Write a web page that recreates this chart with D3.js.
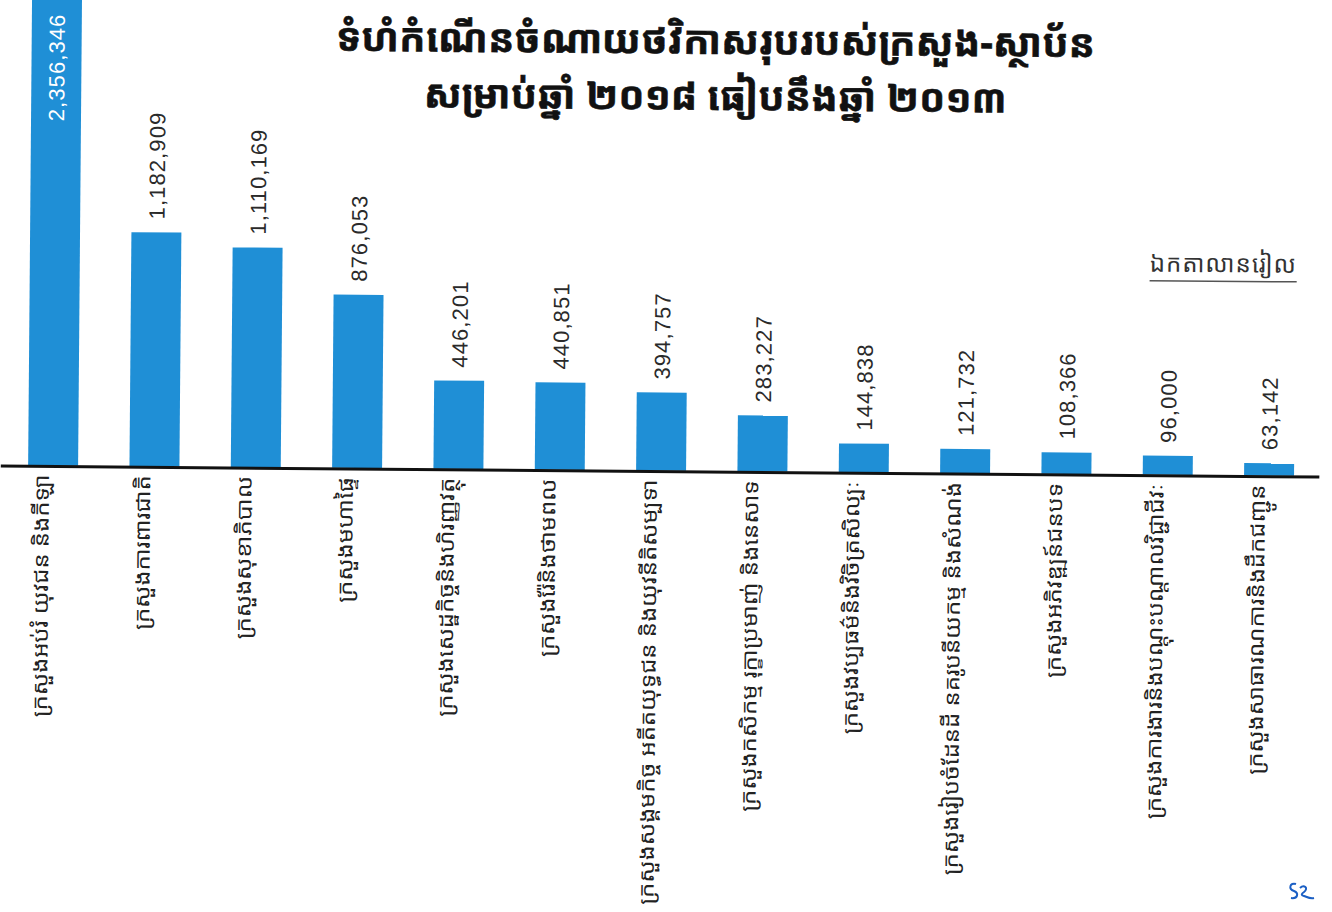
<!DOCTYPE html>
<html>
<head>
<meta charset="utf-8">
<script src="https://cdn.jsdelivr.net/npm/d3@7"></script>
<style>
  html, body { margin: 0; padding: 0; background: #ffffff; }
  svg { display: block; }
</style>
</head>
<body>
<svg id="chart" width="1332" height="912"></svg>
<script>
// ---- data ----
const categories = [
  "ក្រសួងអប់រំ យុវជន និងកីឡា",
  "ក្រសួងការពារជាតិ",
  "ក្រសួងសុខាភិបាល",
  "ក្រសួងមហាផ្ទៃ",
  "ក្រសួងសេដ្ឋកិច្ចនិងហិរញ្ញវត្ថុ",
  "ក្រសួងរ៉ែនិងថាមពល",
  "ក្រសួងសង្គមកិច្ច អតីតយុទ្ធជន និងយុវនីតិសម្បទា",
  "ក្រសួងកសិកម្ម រុក្ខាប្រមាញ់ និងនេសាទ",
  "ក្រសួងវប្បធម៌និងវិចិត្រសិល្បៈ",
  "ក្រសួងរៀបចំដែនដី នគរូបនីយកម្ម និងសំណង់",
  "ក្រសួងអភិវឌ្ឍន៍ជនបទ",
  "ក្រសួងការងារនិងបណ្តុះបណ្តាលវិជ្ជាជីវៈ",
  "ក្រសួងសាធារណការនិងដឹកជញ្ជូន"
];
const values = [2356346, 1182909, 1110169, 876053, 446201, 440851, 394757, 283227, 144838, 121732, 108366, 96000, 63142];
const titleLines = [
  "ទំហំកំណើនចំណាយថវិកាសរុបរបស់ក្រសួង-ស្ថាប័ន",
  "សម្រាប់ឆ្នាំ ២០១៨ ធៀបនឹងឆ្នាំ ២០១៣"
];
const unitLabel = "ឯកតាលានរៀល";

// ---- drawing ----
const svg = d3.select("#chart");
const khmerFont = "'Noto Sans Khmer','Khmer OS','Khmer OS System','Noto Sans','DejaVu Sans',sans-serif";
const numFont = "'Liberation Sans',Arial,sans-serif";
const barColor = "#1f8fd6";

const root = svg.append("g").attr("transform", "rotate(0.48)");

const baseline = 465;
const x = d3.scaleBand().domain(categories).range([6.7, 1323.3]).paddingInner(0.507).paddingOuter(0.25);
const y = d3.scaleLinear().domain([0, values[0]]).range([baseline, baseline - 466]);

const data = categories.map((c, i) => ({ c, v: values[i], i }));
const fmt = d3.format(",");

// bars
root.append("g").selectAll("rect").data(data).join("rect")
  .attr("x", d => x(d.c))
  .attr("y", d => y(d.v))
  .attr("width", x.bandwidth())
  .attr("height", d => y(0) - y(d.v))
  .attr("fill", barColor);

// axis line
root.append("line")
  .attr("x1", x.range()[0] - 2).attr("x2", x.range()[1])
  .attr("y1", y(0) + 1).attr("y2", y(0) + 1)
  .attr("stroke", "#111").attr("stroke-width", 3);

// value labels
root.append("g").selectAll("text").data(data).join("text")
  .attr("transform", d => {
    const cx = x(d.c) + x.bandwidth() / 2 + 8;
    return d.i === 0 ? `translate(${cx},13) rotate(-90)` : `translate(${cx},${y(d.v) - 13}) rotate(-90)`;
  })
  .attr("text-anchor", d => d.i === 0 ? "end" : "start")
  .attr("font-family", numFont)
  .attr("font-size", 22)
  .attr("letter-spacing", 1.1)
  .attr("fill", d => d.i === 0 ? "#ffffff" : "#2a2a2a")
  .text(d => fmt(d.v));

// category labels
root.append("g").selectAll("text").data(data).join("text")
  .attr("transform", d => `translate(${x(d.c) + x.bandwidth() / 2 - 4},${y(0) + 9}) rotate(-90) scale(1.14,1)`)
  .attr("text-anchor", "end")
  .attr("font-family", khmerFont)
  .attr("font-size", 21)
  .attr("fill", "#222")
  .text(d => d.c);

// title
root.append("g").selectAll("text").data(titleLines).join("text")
  .attr("x", 716)
  .attr("y", (d, i) => 48 + i * 56)
  .attr("text-anchor", "middle")
  .attr("font-family", khmerFont)
  .attr("font-weight", "bold")
  .attr("font-size", 39)
  .attr("fill", "#111")
  .attr("stroke", "#111")
  .attr("stroke-width", 0.6)
  .text(d => d);

// unit label
const unit = root.append("text")
  .attr("x", 1299).attr("y", 262)
  .attr("text-anchor", "end")
  .attr("font-family", khmerFont)
  .attr("font-size", 24)
  .attr("letter-spacing", 1)
  .attr("fill", "#333")
  .text(unitLabel);
const ub = unit.node().getBBox();
root.append("line")
  .attr("x1", ub.x).attr("x2", ub.x + ub.width)
  .attr("y1", 271).attr("y2", 271)
  .attr("stroke", "#555").attr("stroke-width", 1.5);

// small signature mark (bottom right)
svg.append("path")
  .attr("d", "M1296,884 c-6,-2 -8,5 -2,7 c5,2 4,8 -3,7 M1300,888 c4,-4 9,0 4,4 c-3,2 -3,3 0,4 c3,1 6,3 10,2")
  .attr("fill", "none").attr("stroke", "#1b5fc4").attr("stroke-width", 2);
</script>
</body>
</html>
